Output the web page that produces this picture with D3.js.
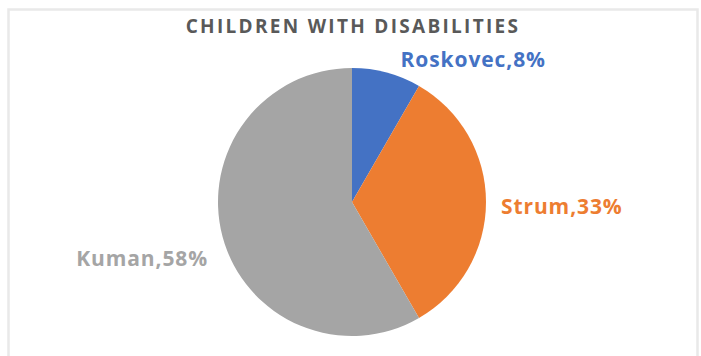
<!DOCTYPE html>
<html>
<head>
<meta charset="utf-8">
<script src="https://cdn.jsdelivr.net/npm/d3@7"></script>
<style>
  body { margin: 0; background: #fff; }
  svg { display: block; }
  text { font-family: "Open Sans", "Noto Sans", sans-serif; font-weight: bold; }
</style>
</head>
<body>
<svg width="701" height="356"></svg>
<script>
  const title = 'CHILDREN WITH DISABILITIES';
  const towns = ['Roskovec', 'Strum', 'Kuman'];
  const counts = [1, 4, 7];
  const colors = ['#4472C4', '#ED7D31', '#A5A5A5'];

  const svg = d3.select('svg');
  const width = +svg.attr('width');
  const height = +svg.attr('height');

  const cx = 352, cy = 202, radius = 134;

  // chart frame
  svg.append('rect')
    .attr('x', 8.5).attr('y', 9.5)
    .attr('width', 689).attr('height', 360)
    .attr('fill', 'none')
    .attr('stroke', '#e9e9e9')
    .attr('stroke-width', 2.5);

  svg.append('text')
    .attr('x', cx + 1)
    .attr('y', 33)
    .attr('text-anchor', 'middle')
    .attr('fill', '#595959')
    .attr('font-size', 19)
    .attr('letter-spacing', 2.3)
    .text(title);

  const data = towns.map((t, i) => ({ town: t, value: counts[i], color: colors[i] }));
  const total = d3.sum(counts);

  const pie = d3.pie().sort(null).value(d => d.value);
  const arc = d3.arc().innerRadius(0).outerRadius(radius);

  const g = svg.append('g')
    .attr('transform', `translate(${cx},${cy})`);

  const arcs = pie(data);

  g.selectAll('path')
    .data(arcs)
    .enter().append('path')
      .attr('d', arc)
      .attr('fill', d => d.data.color);

  // labels just outside the rim, at the slice's mid angle
  const labelR = radius + 15;
  const nudge = { Roskovec: [10, 2], Strum: [0, 5], Kuman: [0, 18] };
  g.selectAll('.label')
    .data(arcs)
    .enter().append('text')
      .attr('class', 'label')
      .each(function (d) {
        const a = (d.startAngle + d.endAngle) / 2;
        const [nx, ny] = nudge[d.data.town];
        d3.select(this)
          .attr('x', Math.sin(a) * labelR + nx)
          .attr('y', -Math.cos(a) * labelR + ny)
          .attr('text-anchor', Math.sin(a) >= 0 ? 'start' : 'end');
      })
      .attr('dy', '0.35em')
      .attr('fill', d => d.data.color)
      .attr('font-size', 21)
      .attr('letter-spacing', 0.9)
      .text(d => `${d.data.town},${d3.format('.0f')(d.data.value / total * 100)}%`);
</script>
</body>
</html>
